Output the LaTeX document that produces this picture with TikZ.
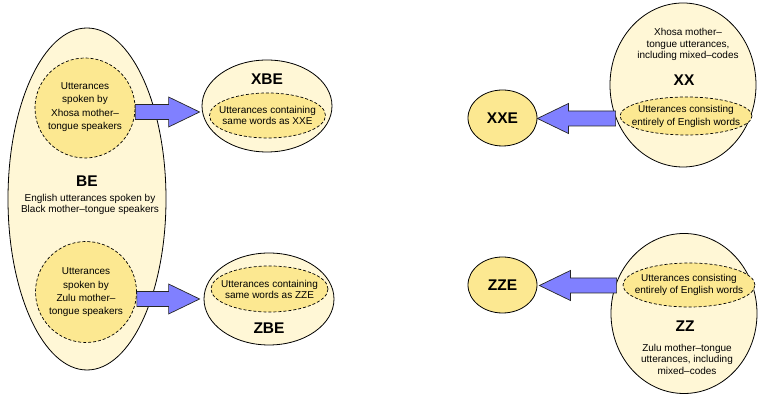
\documentclass[tikz,border=0pt]{standalone}
\usepackage{fontspec}
\setmainfont{Liberation Sans}
\usetikzlibrary{calc,shapes.geometric}

\definecolor{paleyellow}{RGB}{255,247,214}
\definecolor{softyellow}{RGB}{252,232,145}
\definecolor{arrowblue}{RGB}{128,128,255}

\tikzset{
  outerset/.style={ellipse, draw, fill=paleyellow, line width=0.8pt, inner sep=0pt},
  innerset/.style={ellipse, draw, fill=softyellow, line width=0.7pt, dash pattern=on 3pt off 2pt, inner sep=0pt},
  solidset/.style={ellipse, draw, fill=softyellow, line width=0.8pt, inner sep=0pt},
  tag/.style={font=\fontsize{15.5}{18}\selectfont\bfseries, inner sep=0pt},
  txt/.style={align=center, inner sep=0pt, font=\fontsize{10}{11.5}\selectfont},
  looser/.style={align=center, inner sep=0pt, font=\fontsize{10}{13.4}\selectfont},
  blockarrow/.style={fill=arrowblue, draw=black!85, line width=0.7pt, line join=miter}
}

% block arrow from the x of #1 to the point #2
\newcommand{\blockarrow}[2]{%
  \draw[blockarrow] let \p1=#1, \p2=#2, \n1={sign(\x2-\x1)} in
    (\x1,\y2+7.5) -- (\x2-\n1*31,\y2+7.5) -- (\x2-\n1*31,\y2+15) -- (\x2,\y2)
    -- (\x2-\n1*31,\y2-15) -- (\x2-\n1*31,\y2-7.5) -- (\x1,\y2-7.5) -- cycle;}

\begin{document}
\begin{tikzpicture}[x=1pt, y=1pt]
    \useasboundingbox (0,0) rectangle (758,395);

    % --- Black English speakers ---
    \node[outerset, minimum width=158, minimum height=342] (be) at (87,196) {};
    \node[innerset, minimum size=100] (xhosa) at (85,287) {};
    \node[looser] (xhosatxt) at (85,288) {Utterances\\spoken by\\Xhosa mother--\\tongue speakers};
    \node[innerset, minimum size=101] (zulu) at (86,103) {};
    \node[looser] (zulutxt) at (86,102.5) {Utterances\\spoken by\\Zulu mother--\\tongue speakers};
    \node[tag] (betag) at (87,214) {BE};
    \node[txt] (betxt) at (90,190.5) {English utterances spoken by\\Black mother--tongue speakers};

    % --- XBE and ZBE ---
    \node[outerset, minimum width=130, minimum height=92] (xbe) at (267,289) {};
    \node[tag] (xbetag) at (267,316) {XBE};
    \node[innerset, minimum width=116, minimum height=45] (xbein) at (267.5,279.5) {};
    \node[txt, font=\fontsize{10}{11}\selectfont] (xbetxt) at (xbein) {Utterances containing\\same words as XXE};

    \node[outerset, minimum width=130, minimum height=92] (zbe) at (269,96) {};
    \node[tag] (zbetag) at (269,67) {ZBE};
    \node[innerset, minimum width=117, minimum height=46] (zbein) at (269.5,106) {};
    \node[txt, font=\fontsize{10}{11}\selectfont] (zbetxt) at (zbein) {Utterances containing\\same words as ZZE};

    % --- Xhosa mother-tongue ---
    \node[outerset, minimum width=146, minimum height=164] (xx) at (683,310) {};
    \node[txt] (xxtxt) at (688,350.5) {Xhosa mother--\\tongue utterances,\\including mixed--codes};
    \node[tag] (xxtag) at (684,315) {XX};
    \node[innerset, minimum width=132, minimum height=38] (xxin) at (686,279) {};
    \node[txt, font=\fontsize{10}{13}\selectfont] (xxintxt) at (xxin) {Utterances consisting\\entirely of English words};
    \node[solidset, minimum width=69, minimum height=56] (xxe) at (502.5,277) {};
    \node[tag] (xxetag) at (xxe) {XXE};

    % --- Zulu mother-tongue ---
    \node[outerset, minimum width=146, minimum height=160] (zz) at (684,81.5) {};
    \node[innerset, minimum width=132, minimum height=44] (zzin) at (689,110) {};
    \node[txt, font=\fontsize{10}{12}\selectfont] (zzintxt) at (zzin) {Utterances consisting\\entirely of English words};
    \node[tag] (zztag) at (685,69) {ZZ};
    \node[txt] (zztxt) at (687,36) {Zulu mother--tongue\\utterances, including\\mixed--codes};
    \node[solidset, minimum width=69, minimum height=56] (zze) at (502.5,110) {};
    \node[tag] (zzetag) at (zze) {ZZE};

    % --- arrows ---
    \blockarrow{(xhosa.east)}{($(xbe.west)+(-2,-6)$)}
    \blockarrow{(zulu.east)}{($(zbe.west)+(-4,0)$)}
    \blockarrow{($(xx.west)+(6,0)$)}{($(xxe.east)+(0,-0.5)$)}
    \blockarrow{($(zz.west)+(6,0)$)}{($(zze.east)+(2,-0.5)$)}

\end{tikzpicture}
\end{document}
